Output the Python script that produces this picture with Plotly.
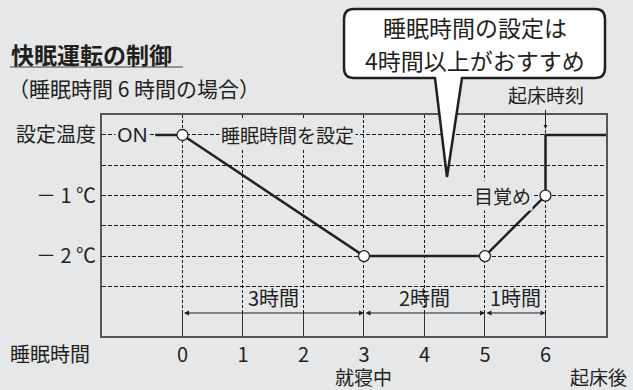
import plotly.graph_objects as go

# data
hours = [0, 1, 2, 3, 4, 5, 6]
temp_x = [0, 3, 5, 6, 6, 7]
temp_y = [0, -2, -2, -1, 0, 0]
point_x = [0, 3, 5, 6]
point_y = [0, -2, -2, -1]
on_x = [-0.45, 0]
on_y = [0, 0]
y_ticks = [0, -0.5, -1, -1.5, -2, -2.5]
y_labels = ["設定温度", "", "－ 1 ℃", "", "－ 2 ℃", ""]
span_start = [0, 3, 5]
span_end = [3, 5, 6]
span_labels = ["3時間", "2時間", "1時間"]
span_y = -2.94

BG = "#e6e7e8"
INK = "#231f20"
FONT = "Noto Sans CJK JP"

# plot area in pixels: l=102, r=606, t=115, b=336
def px(x):
    return (x - 102) / 504

def py(y):
    return (336 - y) / 221

fig = go.Figure()

fig.add_trace(go.Scatter(x=on_x, y=on_y, mode="lines",
                         line=dict(color=INK, width=2.5), hoverinfo="skip"))
fig.add_trace(go.Scatter(x=temp_x, y=temp_y, mode="lines",
                         line=dict(color=INK, width=2.5), hoverinfo="skip"))
fig.add_trace(go.Scatter(x=point_x, y=point_y, mode="markers",
                         marker=dict(symbol="circle", size=11, color="white",
                                     line=dict(color=INK, width=1.3)),
                         hoverinfo="skip"))

fig.update_layout(
    width=633, height=390,
    margin=dict(l=102, r=27, t=115, b=54),
    paper_bgcolor=BG, plot_bgcolor=BG,
    showlegend=False,
    font=dict(family=FONT, color=INK, size=20),
)

fig.update_xaxes(range=[-1.33, 7.0], tickvals=hours, ticktext=[str(h) for h in hours],
                 showgrid=True, gridcolor="#1a1a1a", gridwidth=1, griddash="3px,2px",
                 ticks="inside", ticklen=23, tickcolor="#333333", tickwidth=1,
                 showline=True, linecolor="#555555", linewidth=2, mirror=True,
                 zeroline=False, tickfont=dict(size=20, color=INK))
fig.update_yaxes(range=[-3.32, 0.33], tickvals=y_ticks, ticktext=y_labels,
                 showgrid=True, gridcolor="#1a1a1a", gridwidth=1, griddash="4px,2px",
                 showline=True, linecolor="#555555", linewidth=2, mirror=True,
                 zeroline=False, ticks="", tickfont=dict(size=20, color=INK))


def paper_text(x, y, text, size, xanchor="center"):
    return dict(x=px(x), y=py(y), xref="paper", yref="paper", text=text,
                showarrow=False, xanchor=xanchor, yanchor="middle",
                font=dict(size=size))


ann = []
# span arrows and labels
for s, e, lab in zip(span_start, span_end, span_labels):
    ann.append(dict(x=e, y=span_y, ax=s, ay=span_y, xref="x", yref="y", axref="x", ayref="y",
                    text="", showarrow=True, arrowhead=2, arrowside="end+start",
                    arrowsize=1, arrowwidth=1, arrowcolor=INK, standoff=0, startstandoff=0))
    ann.append(dict(x=(s + e) / 2, y=-2.69, xref="x", yref="y", text=lab,
                    showarrow=False, xanchor="center", yanchor="middle", font=dict(size=20)))

ann += [
    dict(x=-0.82, y=0, xref="x", yref="y", text="ON", showarrow=False,
         xanchor="center", yanchor="middle",
         bgcolor=BG, font=dict(size=20, family="Noto Sans")),
    dict(x=1.73, y=0, xref="x", yref="y", text="睡眠時間を設定", showarrow=False,
         xanchor="center", yanchor="middle", bgcolor=BG, font=dict(size=19)),
    dict(x=5.8, y=-1, xref="x", yref="y", text="目覚め", showarrow=False,
         xanchor="right", yanchor="middle", bgcolor=BG, font=dict(size=19)),
    dict(x=6, y=0, xref="x", yref="y", text="起床時刻", showarrow=True, ax=0, ay=-40,
         arrowhead=2, arrowsize=0.8, arrowwidth=1, arrowcolor=INK, standoff=6,
         font=dict(size=19)),
    dict(x=3, y=py(376), xref="x", yref="paper", text="就寝中",
         showarrow=False, xanchor="center", yanchor="middle", font=dict(size=19)),
    paper_text(50, 353, "睡眠時間", 20),
    paper_text(598, 376, "起床後", 19),
    paper_text(9, 54, "<b>快眠運転の制御</b>", 23, "left"),
    paper_text(6, 88, "（睡眠時間 6 時間の場合）", 21, "left"),
    paper_text(475, 27, "睡眠時間の設定は", 23),
    paper_text(475, 60, "4時間以上がおすすめ", 23),
]

# speech bubble
x0, x1, y0, y1, r = 344, 605, 9, 78, 10
tl, tr, tip = 435, 462, (447, 177)
pts = [
    ("M", px(x0 + r), py(y0)),
    ("L", px(x1 - r), py(y0)),
    ("Q", px(x1), py(y0), px(x1), py(y0 + r)),
    ("L", px(x1), py(y1 - r)),
    ("Q", px(x1), py(y1), px(x1 - r), py(y1)),
    ("L", px(tr), py(y1)),
    ("L", px(tip[0]), py(tip[1])),
    ("L", px(tl), py(y1)),
    ("L", px(x0 + r), py(y1)),
    ("Q", px(x0), py(y1), px(x0), py(y1 - r)),
    ("L", px(x0), py(y0 + r)),
    ("Q", px(x0), py(y0), px(x0 + r), py(y0)),
]
path = ""
for p in pts:
    path += p[0] + " " + " ".join(f"{v:.4f}" for v in p[1:]) + " "
path += "Z"

shapes = [
    dict(type="path", path=path, xref="paper", yref="paper",
         fillcolor="white", line=dict(color=INK, width=2.5), layer="above"),
    dict(type="line", xref="paper", yref="paper", x0=px(10), x1=px(183),
         y0=py(67), y1=py(67), line=dict(color="#777777", width=1.5)),
]

fig.update_layout(annotations=ann, shapes=shapes)

fig.write_html("out.html", config={"displayModeBar": False},
               post_script="document.body.style.margin='0';"
                           "document.body.style.background='#e6e7e8';")
